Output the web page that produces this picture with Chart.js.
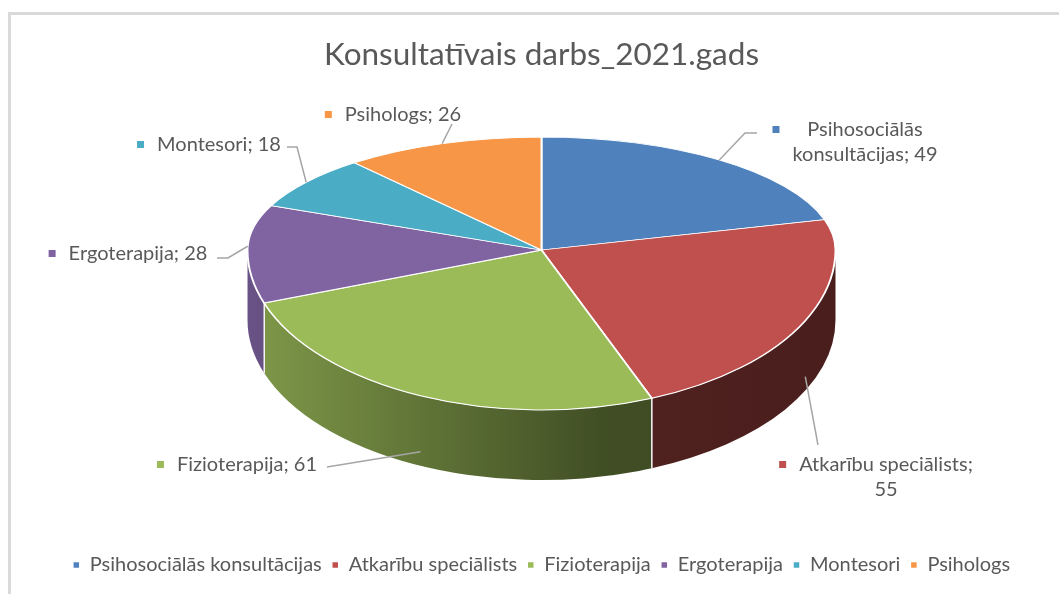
<!DOCTYPE html>
<html>
<head>
<meta charset="utf-8">
<script src="https://cdn.jsdelivr.net/npm/chart.js@4"></script>
<style>
  body { margin: 0; background: #fff; }
  #wrap { position: relative; width: 1059px; height: 594px; overflow: hidden; }
  #frame { position: absolute; left: 8px; top: 12px; right: -10px; bottom: -10px;
           border-left: 3px solid #d9d9d9; border-top: 3px solid #d9d9d9; }
  canvas { position: absolute; left: 0; top: 0; }
</style>
</head>
<body>
<div id="wrap">
  <div id="frame"></div>
  <canvas id="pieChart" width="1059" height="594"></canvas>
</div>
<script>
// Data
const chartTitle = 'Konsultatīvais darbs_2021.gads';
const categories = ['Psihosociālās konsultācijas', 'Atkarību speciālists', 'Fizioterapija', 'Ergoterapija', 'Montesori', 'Psihologs'];
const values = [49, 55, 61, 28, 18, 26];
const colors = ['#4F81BD', '#C0504D', '#9BBB59', '#8064A2', '#4BACC6', '#F79646'];

// 3D look: back half flatter than front half (fake perspective), wall height
const pieShape = { rx: 294, ryBack: 113, ryFront: 160, cy: 250, depth: 70 };
const textColor = '#595959';
const labelFont = '20px Lato';

// data label placement (centre of text block, first line y, words on first line, leader bends)
const labelLayout = [
  { x: 865, y: 130, wrap: 1, bends: [[745, 133], [757, 133]] },
  { x: 886, y: 465, wrap: 2, bends: [[818, 445]] },
  { x: 247, y: 465, wrap: 0, bends: [[327, 467]] },
  { x: 138, y: 254, wrap: 0, bends: [[228, 258], [217, 258]] },
  { x: 219, y: 145, wrap: 0, bends: [[297, 147], [287, 147]] },
  { x: 403, y: 115, wrap: 0, bends: [[452, 124]] }
];

function shade(hex, f) {
  const n = parseInt(hex.slice(1), 16);
  const r = Math.round(((n >> 16) & 255) * f);
  const g = Math.round(((n >> 8) & 255) * f);
  const b = Math.round((n & 255) * f);
  return `rgb(${r},${g},${b})`;
}

function geom(chart) {
  const a = chart.getDatasetMeta(0).data[0];
  return { ax: a.x, ay: a.y, R: a.outerRadius, cx: a.x, cy: pieShape.cy, rx: pieShape.rx };
}

function drawLabels(chart) {
  const ctx = chart.ctx;
  const g = geom(chart);
  const arcs = chart.getDatasetMeta(0).data;
  ctx.save();
  ctx.font = labelFont;
  ctx.textBaseline = 'middle';
  ctx.textAlign = 'center';
  arcs.forEach((a, i) => {
    const L = labelLayout[i];
    const mid = (a.startAngle + a.endAngle) / 2;
    const front = Math.sin(mid) > 0;
    const sx = g.cx + g.rx * Math.cos(mid);
    let sy = g.cy + (front ? pieShape.ryFront : pieShape.ryBack) * Math.sin(mid);
    if (front) sy += pieShape.depth * 0.8;
    ctx.strokeStyle = '#a6a6a6';
    ctx.lineWidth = 1.5;
    ctx.beginPath();
    ctx.moveTo(sx, sy);
    L.bends.forEach(p => ctx.lineTo(p[0], p[1]));
    ctx.stroke();
    const text = `${categories[i]}; ${values[i]}`;
    const words = text.split(' ');
    const lines = L.wrap ? [words.slice(0, L.wrap).join(' '), words.slice(L.wrap).join(' ')] : [text];
    const w = Math.max(...lines.map(t => ctx.measureText(t).width));
    ctx.fillStyle = textColor;
    lines.forEach((t, k) => ctx.fillText(t, L.x, L.y + k * 25));
    ctx.fillStyle = colors[i];
    ctx.fillRect(L.x - w / 2 - 20, L.y - 4, 7, 7);
  });
  ctx.restore();
}

const pie3d = {
  id: 'pie3d',
  beforeDatasetsDraw(chart) {
    const ctx = chart.ctx;
    const g = geom(chart);
    const arcs = chart.getDatasetMeta(0).data;
    const d = pieShape.depth;
    const ry = pieShape.ryFront;
    // side walls for the front half
    arcs.forEach((a, i) => {
      const s = Math.max(a.startAngle, 0);
      const e = Math.min(a.endAngle, Math.PI);
      if (s >= e) return;
      const grad = ctx.createLinearGradient(g.cx - g.rx, 0, g.cx + g.rx, 0);
      grad.addColorStop(0, shade(colors[i], 0.82));
      grad.addColorStop(0.6, shade(colors[i], 0.42));
      grad.addColorStop(1, shade(colors[i], 0.38));
      ctx.beginPath();
      ctx.ellipse(g.cx, g.cy, g.rx, ry, 0, s, e);
      ctx.ellipse(g.cx, g.cy + d, g.rx, ry, 0, e, s, true);
      ctx.closePath();
      ctx.fillStyle = grad;
      ctx.fill();
      ctx.strokeStyle = '#ffffff';
      ctx.lineWidth = 1.2;
      [s, e].forEach(t => {
        if (t <= 0 || t >= Math.PI) return;
        const x = g.cx + g.rx * Math.cos(t), y = g.cy + ry * Math.sin(t);
        ctx.beginPath();
        ctx.moveTo(x, y);
        ctx.lineTo(x, y + d);
        ctx.stroke();
      });
    });
    // top face: draw the library's arcs twice, squashed differently above / below centre
    [[pieShape.ryBack, -1], [pieShape.ryFront, 1]].forEach(([r, side]) => {
      ctx.save();
      ctx.beginPath();
      if (side < 0) ctx.rect(0, 0, chart.width, g.cy);
      else ctx.rect(0, g.cy, chart.width, chart.height - g.cy);
      ctx.clip();
      ctx.translate(g.cx, g.cy);
      ctx.scale(g.rx / g.R, r / g.R);
      ctx.translate(-g.ax, -g.ay);
      arcs.forEach(a => a.draw(ctx, chart.chartArea));
      ctx.restore();
    });
    drawLabels(chart);
    return false;
  }
};

const ctxPie = document.getElementById('pieChart').getContext('2d');
const pieChart = new Chart(ctxPie, {
  type: 'pie',
  data: {
    labels: categories,
    datasets: [{
      data: values,
      backgroundColor: colors,
      borderColor: '#ffffff',
      borderWidth: 1.5
    }]
  },
  options: {
    responsive: false,
    animation: false,
    events: [],
    layout: { padding: { left: 24, bottom: 9 } },
    plugins: {
      title: {
        display: true,
        text: chartTitle,
        color: textColor,
        font: { family: 'Lato', size: 31.5, weight: 'normal' },
        padding: { top: 36, bottom: 20 }
      },
      legend: {
        position: 'bottom',
        labels: {
          boxWidth: 7,
          boxHeight: 7,
          color: textColor,
          font: { family: 'Lato', size: 20 },
          padding: 10
        }
      },
      tooltip: { enabled: false }
    }
  },
  plugins: [pie3d]
});
</script>
</body>
</html>
